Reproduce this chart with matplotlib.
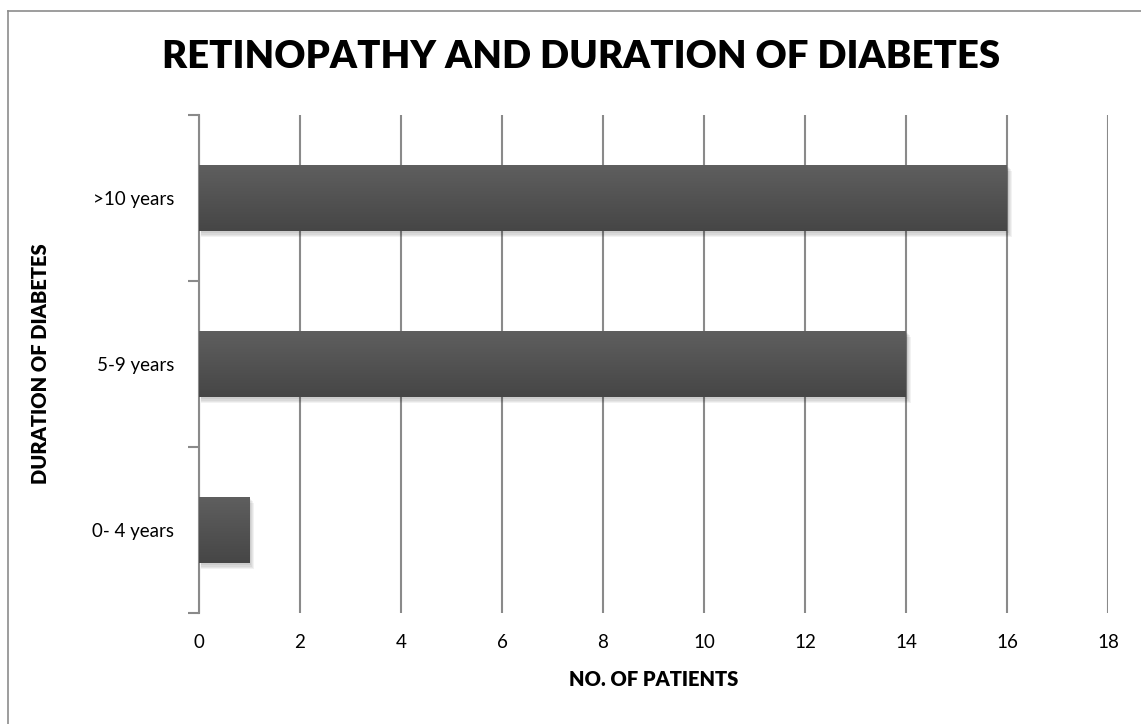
import numpy as np
import matplotlib.pyplot as plt
from matplotlib.patches import Rectangle
from matplotlib.lines import Line2D
from matplotlib.colors import LinearSegmentedColormap

categories = ["0- 4 years", "5-9 years", ">10 years"]
patients = [1, 14, 16]
x_ticks = [0, 2, 4, 6, 8, 10, 12, 14, 16, 18]

plt.rcParams['font.family'] = ['Lato', 'DejaVu Sans']

W, H = 1141, 724
fig = plt.figure(figsize=(W / 100, H / 100), dpi=100)
ax = fig.add_axes([199 / W, 1 - 613 / H, (1108 - 199) / W, (613 - 115) / H])

grid_col = "#8a8a8a"
bar_h = 0.4
y = np.arange(len(categories))

# soft drop shadow under each bar
for i, v in enumerate(patients):
    for k in range(4):
        off = 0.012 + k * 0.008
        ax.add_patch(Rectangle((0.03, i - bar_h / 2 - off), v + 0.02 * k, bar_h,
                               facecolor="black", edgecolor="none", alpha=0.05, zorder=2))

bars = ax.barh(y, patients, height=bar_h, color="#525252", edgecolor="none", zorder=3)

# vertical gradient on each bar, lighter on top
grad = np.linspace(0, 1, 64).reshape(-1, 1)
cmap = LinearSegmentedColormap.from_list("g", ["#464646", "#5f5f5f"])
for b in bars:
    x0, y0 = b.get_x(), b.get_y()
    im = ax.imshow(grad, cmap=cmap, aspect="auto", zorder=4, origin="lower",
                   extent=[x0, x0 + b.get_width(), y0, y0 + b.get_height()])
    im.set_clip_path(b)

ax.set_xlim(0, 18)
ax.set_ylim(-0.5, 2.5)
ax.set_xticks(x_ticks)
ax.set_xticklabels([str(t) for t in x_ticks], fontsize=13.5)
ax.set_yticks(y)
ax.set_yticklabels(categories, fontsize=13.5)
ax.set_yticks([-0.5, 0.5, 1.5, 2.5], minor=True)
ax.tick_params(axis="y", which="major", length=0, pad=18)
ax.tick_params(axis="y", which="minor", length=8, width=1.5, color=grid_col)
ax.tick_params(axis="x", length=0, pad=15)

ax.grid(axis="x", color=grid_col, linewidth=1.5, zorder=1)
ax.set_axisbelow(True)
for s in ["top", "right", "bottom"]:
    ax.spines[s].set_visible(False)
ax.spines["left"].set_color(grid_col)
ax.spines["left"].set_linewidth(1.5)

ax.set_xlabel("NO. OF PATIENTS", fontsize=14.5, fontweight="heavy", labelpad=14)
ax.set_ylabel("DURATION OF DIABETES", fontsize=14.5, fontweight="heavy", labelpad=30)

fig.text(0.5 * (172 + 990) / W, 1 - 57 / H, "RETINOPATHY AND DURATION OF DIABETES",
         ha="center", va="center", fontsize=27.5, fontweight="heavy")

# chart frame: only its top and left edges fall inside the image
fx, fy = 7.5 / W, 1 - 10.5 / H
fig.add_artist(Line2D([fx, 1.0], [fy, fy], transform=fig.transFigure,
                      color="#8c8c8c", linewidth=1.2))
fig.add_artist(Line2D([fx, fx], [0.0, fy], transform=fig.transFigure,
                      color="#8c8c8c", linewidth=1.2))

fig.savefig("out.png", dpi=100, facecolor="white")
